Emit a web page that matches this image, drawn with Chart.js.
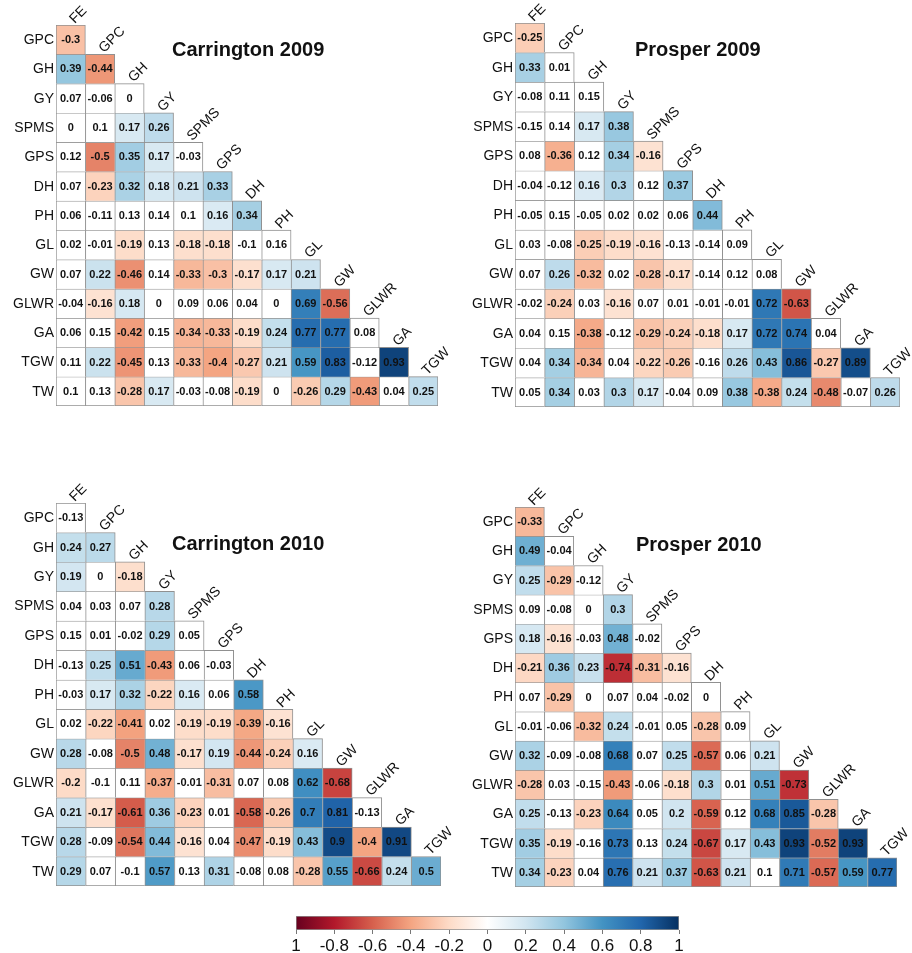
<!DOCTYPE html>
<html>
<head>
<meta charset="utf-8">
<title>Trait correlations</title>
<script src="https://cdn.jsdelivr.net/npm/chart.js@4.4.1/dist/chart.umd.min.js"></script>
<style>
body { margin: 0; background: #fff; }
#wrap { position: relative; width: 912px; height: 953px; }
canvas { position: absolute; }
</style>
</head>
<body>
<div id="wrap">
<canvas id="c09" width="456" height="440" style="left:0;top:0"></canvas>
<canvas id="p09" width="456" height="440" style="left:456px;top:0"></canvas>
<canvas id="c10" width="456" height="440" style="left:0;top:470px"></canvas>
<canvas id="p10" width="456" height="440" style="left:456px;top:470px"></canvas>
<canvas id="scale" width="440" height="53" style="left:270px;top:900px"></canvas>
</div>
<script>
var colNames = ['FE', 'GPC', 'GH', 'GY', 'SPMS', 'GPS', 'DH', 'PH', 'GL', 'GW', 'GLWR', 'GA', 'TGW'];
var rowNames = ['GPC', 'GH', 'GY', 'SPMS', 'GPS', 'DH', 'PH', 'GL', 'GW', 'GLWR', 'GA', 'TGW', 'TW'];

var carrington2009 = [
    [-0.3],
    [0.39, -0.44],
    [0.07, -0.06, 0],
    [0, 0.1, 0.17, 0.26],
    [0.12, -0.5, 0.35, 0.17, -0.03],
    [0.07, -0.23, 0.32, 0.18, 0.21, 0.33],
    [0.06, -0.11, 0.13, 0.14, 0.1, 0.16, 0.34],
    [0.02, -0.01, -0.19, 0.13, -0.18, -0.18, -0.1, 0.16],
    [0.07, 0.22, -0.46, 0.14, -0.33, -0.3, -0.17, 0.17, 0.21],
    [-0.04, -0.16, 0.18, 0, 0.09, 0.06, 0.04, 0, 0.69, -0.56],
    [0.06, 0.15, -0.42, 0.15, -0.34, -0.33, -0.19, 0.24, 0.77, 0.77, 0.08],
    [0.11, 0.22, -0.45, 0.13, -0.33, -0.4, -0.27, 0.21, 0.59, 0.83, -0.12, 0.93],
    [0.1, 0.13, -0.28, 0.17, -0.03, -0.08, -0.19, 0, -0.26, 0.29, -0.43, 0.04, 0.25]
];
var prosper2009 = [
    [-0.25],
    [0.33, 0.01],
    [-0.08, 0.11, 0.15],
    [-0.15, 0.14, 0.17, 0.38],
    [0.08, -0.36, 0.12, 0.34, -0.16],
    [-0.04, -0.12, 0.16, 0.3, 0.12, 0.37],
    [-0.05, 0.15, -0.05, 0.02, 0.02, 0.06, 0.44],
    [0.03, -0.08, -0.25, -0.19, -0.16, -0.13, -0.14, 0.09],
    [0.07, 0.26, -0.32, 0.02, -0.28, -0.17, -0.14, 0.12, 0.08],
    [-0.02, -0.24, 0.03, -0.16, 0.07, 0.01, -0.01, -0.01, 0.72, -0.63],
    [0.04, 0.15, -0.38, -0.12, -0.29, -0.24, -0.18, 0.17, 0.72, 0.74, 0.04],
    [0.04, 0.34, -0.34, 0.04, -0.22, -0.26, -0.16, 0.26, 0.43, 0.86, -0.27, 0.89],
    [0.05, 0.34, 0.03, 0.3, 0.17, -0.04, 0.09, 0.38, -0.38, 0.24, -0.48, -0.07, 0.26]
];
var carrington2010 = [
    [-0.13],
    [0.24, 0.27],
    [0.19, 0, -0.18],
    [0.04, 0.03, 0.07, 0.28],
    [0.15, 0.01, -0.02, 0.29, 0.05],
    [-0.13, 0.25, 0.51, -0.43, 0.06, -0.03],
    [-0.03, 0.17, 0.32, -0.22, 0.16, 0.06, 0.58],
    [0.02, -0.22, -0.41, 0.02, -0.19, -0.19, -0.39, -0.16],
    [0.28, -0.08, -0.5, 0.48, -0.17, 0.19, -0.44, -0.24, 0.16],
    [-0.2, -0.1, 0.11, -0.37, -0.01, -0.31, 0.07, 0.08, 0.62, -0.68],
    [0.21, -0.17, -0.61, 0.36, -0.23, 0.01, -0.58, -0.26, 0.7, 0.81, -0.13],
    [0.28, -0.09, -0.54, 0.44, -0.16, 0.04, -0.47, -0.19, 0.43, 0.9, -0.4, 0.91],
    [0.29, 0.07, -0.1, 0.57, 0.13, 0.31, -0.08, 0.08, -0.28, 0.55, -0.66, 0.24, 0.5]
];
var prosper2010 = [
    [-0.33],
    [0.49, -0.04],
    [0.25, -0.29, -0.12],
    [0.09, -0.08, 0, 0.3],
    [0.18, -0.16, -0.03, 0.48, -0.02],
    [-0.21, 0.36, 0.23, -0.74, -0.31, -0.16],
    [0.07, -0.29, 0, 0.07, 0.04, -0.02, 0],
    [-0.01, -0.06, -0.32, 0.24, -0.01, 0.05, -0.28, 0.09],
    [0.32, -0.09, -0.08, 0.68, 0.07, 0.25, -0.57, 0.06, 0.21],
    [-0.28, 0.03, -0.15, -0.43, -0.06, -0.18, 0.3, 0.01, 0.51, -0.73],
    [0.25, -0.13, -0.23, 0.64, 0.05, 0.2, -0.59, 0.12, 0.68, 0.85, -0.28],
    [0.35, -0.19, -0.16, 0.73, 0.13, 0.24, -0.67, 0.17, 0.43, 0.93, -0.52, 0.93],
    [0.34, -0.23, 0.04, 0.76, 0.21, 0.37, -0.63, 0.21, 0.1, 0.71, -0.57, 0.59, 0.77]
];

// cells left white although |r| reaches the cut (row, column)
var blankCarrington2009 = [['GL', 'PH']];
var blankProsper2009 = [['TGW', 'DH']];
var blankCarrington2010 = [];
var blankProsper2010 = [['TGW', 'GH']];
var colourCut = 0.16;

var scaleTicks = ['1', '-0.8', '-0.6', '-0.4', '-0.2', '0', '0.2', '0.4', '0.6', '0.8', '1'];

var rdbu = ['#67001F', '#B2182B', '#D6604D', '#F4A582', '#FDDBC7', '#FFFFFF', '#D1E5F0', '#92C5DE', '#4393C3', '#2166AC', '#053061'];
var FONT = '"Liberation Sans", Arial, Helvetica, sans-serif';
Chart.defaults.font.family = FONT;

function HexRgb(h) {
    return [parseInt(h.substr(1, 2), 16), parseInt(h.substr(3, 2), 16), parseInt(h.substr(5, 2), 16)];
}
function CellColour(v) {
    var t = (v + 1) / 2 * 10, i = Math.min(9, Math.floor(t)), f = t - i;
    var a = HexRgb(rdbu[i]), b = HexRgb(rdbu[i + 1]);
    return 'rgb(' + [0, 1, 2].map(k => Math.round(a[k] + (b[k] - a[k]) * f)).join(',') + ')';
}

var corrText = {
    id: 'corrText',
    afterDatasetsDraw: function (chart, args, opts) {
        var ctx = chart.ctx, area = chart.chartArea, xs = chart.scales.x, ys = chart.scales.y;
        ctx.save();
        ctx.fillStyle = '#111';
        ctx.textAlign = 'center';
        ctx.textBaseline = 'middle';
        ctx.font = 'bold 11px ' + FONT;
        chart.data.datasets.forEach(function (ds, r) {
            chart.getDatasetMeta(r).data.forEach(function (bar, c) {
                if (ds.data[c] === null) return;
                var p = bar.getCenterPoint();
                ctx.fillText(String(ds.corr[c]), p.x, p.y + 0.5);
            });
        });
        ctx.font = '14px ' + FONT;
        ctx.textAlign = 'right';
        rowNames.forEach(function (n, r) {
            ctx.fillText(n, area.left - 2, ys.getPixelForValue(r + 0.5) + 0.5);
        });
        ctx.textAlign = 'left';
        ctx.textBaseline = 'alphabetic';
        colNames.forEach(function (n, c) {
            ctx.save();
            ctx.translate(xs.getPixelForValue(c) + 4, ys.getPixelForValue(c) - 1);
            ctx.rotate(-Math.PI / 4);
            ctx.fillText(n, 0, 0);
            ctx.restore();
        });
        ctx.font = 'bold 20px ' + FONT;
        ctx.textBaseline = 'middle';
        ctx.fillText(opts.text, opts.x, opts.y);
        ctx.restore();
    }
};

function CorrChart(id, title, values, blanks, pad, titleX, titleY) {
    var sets = rowNames.map(function (rn, r) {
        return {
            label: rn,
            corr: values[r],
            data: colNames.map((cn, c) => c <= r ? [r, r + 1] : null),
            backgroundColor: function (ctx) {
                var c = ctx.dataIndex, v = values[r][c];
                if (v === undefined || Math.abs(v) < colourCut) return '#ffffff';
                for (var k = 0; k < blanks.length; k++) {
                    if (blanks[k][0] === rn && blanks[k][1] === colNames[c]) return '#ffffff';
                }
                return CellColour(v);
            },
            borderColor: '#909090',
            borderWidth: function (ctx) {
                var c = ctx.dataIndex;
                return { top: 1, left: 1, right: c === r ? 1 : 0, bottom: r === rowNames.length - 1 ? 1 : 0 };
            },
            borderSkipped: false,
            grouped: false,
            barPercentage: 1,
            categoryPercentage: 1
        };
    });
    return new Chart(document.getElementById(id), {
        type: 'bar',
        data: { labels: colNames, datasets: sets },
        options: {
            responsive: false,
            animation: false,
            layout: { padding: pad },
            plugins: {
                legend: { display: false },
                tooltip: { enabled: false },
                corrText: { text: title, x: titleX, y: titleY }
            },
            scales: {
                x: { type: 'category', display: false, offset: true },
                y: { type: 'linear', display: false, min: 0, max: 13, reverse: true }
            }
        },
        plugins: [corrText]
    });
}

CorrChart('c09', 'Carrington 2009', carrington2009, blankCarrington2009, { left: 56, top: 25, right: 18, bottom: 34 }, 172, 50);
CorrChart('p09', 'Prosper 2009', prosper2009, blankProsper2009, { left: 59, top: 23, right: 12, bottom: 33 }, 179, 50);
CorrChart('c10', 'Carrington 2010', carrington2010, blankCarrington2010, { left: 56, top: 33, right: 15, bottom: 24 }, 172, 74);
CorrChart('p10', 'Prosper 2010', prosper2010, blankProsper2010, { left: 59, top: 37, right: 15, bottom: 23 }, 180, 75);

new Chart(document.getElementById('scale'), {
    type: 'bar',
    data: {
        labels: [''],
        datasets: [{
            data: [[-1, 1]],
            backgroundColor: function (ctx) {
                var a = ctx.chart.chartArea;
                if (!a) return '#fff';
                var g = ctx.chart.ctx.createLinearGradient(a.left, 0, a.right, 0);
                rdbu.forEach((c, i) => g.addColorStop(i / (rdbu.length - 1), c));
                return g;
            },
            borderColor: '#909090',
            borderWidth: 1,
            borderSkipped: false,
            barPercentage: 1,
            categoryPercentage: 1
        }]
    },
    options: {
        indexAxis: 'y',
        responsive: false,
        animation: false,
        layout: { padding: { left: 26, right: 31, top: 16, bottom: 0 } },
        plugins: { legend: { display: false }, tooltip: { enabled: false } },
        scales: {
            x: {
                type: 'linear', min: -1, max: 1,
                afterFit: function (s) { s.height = 23; },
                border: { display: false },
                grid: { drawOnChartArea: false, drawTicks: true, tickLength: 4, color: '#777' },
                ticks: {
                    stepSize: 0.2, autoSkip: false, maxRotation: 0, padding: 2, color: '#111',
                    font: { size: 17 },
                    callback: function (v, i) { return scaleTicks[i]; }
                }
            },
            y: { display: false }
        }
    }
});
</script>
</body>
</html>
